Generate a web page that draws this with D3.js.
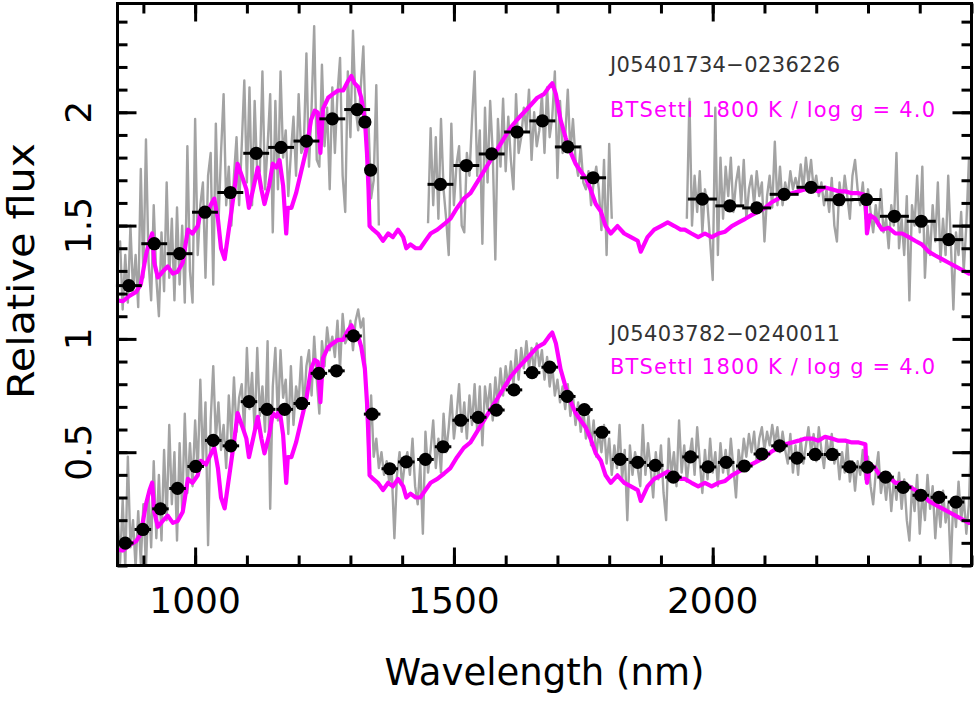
<!DOCTYPE html>
<html>
<head>
<meta charset="utf-8">
<script src="https://cdn.jsdelivr.net/npm/d3@7"></script>
<style>
  body { margin: 0; background: #fff; }
  svg { display: block; font-family: "DejaVu Sans", sans-serif; }
</style>
</head>
<body>
<svg id="chart" width="975" height="705"></svg>
<script>
// ---- data ----
const xDomain = [850, 2500];
const yDomain = [0, 2.48];
const xTickLabels = [1000, 1500, 2000];
const yTickLabels = [0.5, 1, 1.5, 2];

const objectNames = ['J05401734\u22120236226', 'J05403782\u22120240011'];
const modelLabel = 'BTSettl 1800 K / log g = 4.0';

// observed spectra on a 5 nm grid
const specStep = 5;
// J05401734: three pieces (telluric gaps removed)
const topSpecStarts = [850, 1450, 1950];
const topSpecFlux = [
  [1.37,1.43,1.13,1.37,1.16,1.50,1.21,1.37,1.14,1.75,
   1.27,1.88,1.34,1.17,1.59,1.27,1.10,1.47,1.21,1.69,
   1.27,1.53,1.17,1.58,1.24,1.50,1.16,1.85,1.30,1.16,
   1.97,1.37,1.59,1.69,1.27,1.72,1.82,1.24,1.95,1.50,
   1.82,2.08,1.59,1.76,1.50,1.72,1.89,1.59,1.85,2.14,
   1.69,2.11,1.59,2.05,1.72,1.74,2.18,1.66,1.85,2.08,
   1.47,2.05,1.66,2.18,1.80,1.92,1.63,1.82,1.98,1.72,
   2.08,1.82,1.85,2.26,1.76,2.02,2.38,1.79,1.76,2.21,
   1.85,2.02,1.66,2.11,1.82,2.08,2.24,1.72,1.56,2.18,
   1.89,2.36,2.02,1.92,2.11,2.29,1.89,1.95,1.62,1.70,
   2.12,1.50],
  [1.51,1.93,1.59,1.89,1.53,1.97,1.66,1.53,1.37,1.95,
   1.59,1.77,1.85,1.50,1.47,1.82,1.72,1.97,2.18,1.72,
   1.92,1.42,2.02,1.69,2.05,1.82,1.35,1.97,1.76,2.06,
   1.74,1.98,1.79,1.66,2.08,1.82,1.89,2.02,1.92,2.10,
   1.79,2.00,1.85,1.92,2.08,1.82,2.11,1.89,1.98,2.18,
   1.71,2.05,1.82,1.89,2.10,1.82,1.97,1.79,1.72,1.85,
   1.69,1.66,1.74,1.59,1.69,1.76,1.66,1.48,1.79,1.37,
   1.86,1.53],
  [1.53,2.06,1.50,1.72,1.56,1.74,1.47,1.66,1.59,1.43,
   1.26,2.02,1.37,1.80,1.53,1.76,1.63,1.80,1.56,1.69,
   1.76,1.59,1.79,1.53,1.66,1.72,1.59,1.74,1.63,1.69,
   1.43,1.63,1.72,1.58,1.87,1.59,1.76,1.59,1.69,1.63,
   1.74,1.66,1.71,1.66,1.77,1.66,1.80,1.69,1.79,1.66,
   1.72,1.63,1.69,1.59,1.66,1.56,1.71,1.50,1.43,1.69,
   1.59,1.72,1.63,1.53,1.72,1.79,1.66,1.59,1.69,1.53,
   1.66,1.56,1.47,1.59,1.50,1.66,1.47,1.53,1.40,1.59,
   1.50,1.82,1.40,1.53,1.37,1.63,1.17,1.59,1.50,1.72,
   1.47,1.76,1.27,1.50,1.37,1.59,1.43,1.69,1.34,1.53,
   1.37,1.72,1.43,1.13,1.47,1.37,1.56,1.30,1.50,1.79,
   1.21]
];
// J05403782: continuous 850-2500
const bottomSpecStart = 850;
const bottomSpecFlux = [
  0.24,0.01,0.29,-0.01,0.48,0.08,0.20,-0.01,0.24,0.01,
  0.27,-0.01,0.32,0.08,0.46,0.12,0.40,0.11,0.51,0.20,
  0.62,0.27,0.50,0.11,0.54,0.24,0.67,0.32,0.54,0.35,
  0.64,0.41,0.82,0.46,0.72,0.09,0.64,0.88,0.56,0.72,
  0.51,0.62,0.43,0.75,0.56,0.83,0.59,0.74,0.80,0.59,
  0.96,0.69,0.85,0.59,0.96,0.66,0.79,0.59,0.99,0.25,
  0.79,0.96,0.64,0.95,0.74,0.82,0.58,0.88,0.62,0.79,
  0.72,0.92,0.69,0.88,0.95,0.75,1.01,0.82,0.67,0.99,
  0.88,1.05,0.95,1.01,0.92,1.08,0.87,1.11,0.98,1.01,
  1.08,0.95,1.08,1.13,1.05,1.09,0.80,0.48,0.75,0.48,
  0.56,0.43,0.50,0.40,0.46,0.37,0.41,0.12,0.40,0.50,
  0.35,0.45,
  0.50,0.40,0.56,0.35,0.27,0.45,0.14,0.59,0.41,0.51,
  0.64,0.43,0.56,0.41,0.67,0.50,0.61,0.75,0.56,0.66,
  0.80,0.59,0.72,0.56,0.75,0.62,0.80,0.59,0.79,0.53,
  0.79,0.69,0.80,0.64,0.83,0.71,0.87,0.75,0.88,0.79,
  0.90,0.80,0.95,0.82,0.96,0.87,0.99,0.87,0.96,0.85,
  0.98,0.88,0.95,0.82,0.92,0.79,0.88,0.75,0.82,0.72,
  0.79,0.69,0.80,0.66,0.75,0.62,0.72,0.59,0.69,0.56,
  0.66,0.53,0.64,0.48,0.59,0.50,0.62,0.45,0.56,0.40,
  0.53,0.43,0.62,0.38,0.51,0.20,0.53,0.40,0.50,0.43,
  0.35,0.62,0.40,0.54,0.43,0.30,0.50,0.38,0.53,0.32,
  0.20,0.56,0.40,0.50,0.35,0.64,0.41,0.53,0.37,0.48,
  0.56,
  0.40,0.61,0.46,0.32,0.51,0.38,0.56,0.41,0.50,0.35,
  0.54,0.41,0.51,0.40,0.56,0.43,0.30,0.51,0.43,0.56,
  0.48,0.58,0.50,0.59,0.46,0.56,0.61,0.51,0.59,0.53,
  0.62,0.54,0.61,0.50,0.59,0.51,0.45,0.58,0.41,0.53,
  0.40,0.56,0.45,0.53,0.61,0.50,0.58,0.46,0.61,0.51,
  0.43,0.56,0.48,0.58,0.45,0.51,0.38,0.50,0.41,0.54,
  0.37,0.46,0.33,0.46,0.40,0.51,0.38,0.48,0.35,0.27,
  0.41,0.50,0.32,0.40,0.29,0.41,0.24,0.38,0.29,0.41,
  0.25,0.38,0.20,0.11,0.35,0.24,0.40,0.14,0.32,0.20,
  0.40,0.25,0.35,0.12,0.29,0.17,0.33,0.19,0.27,-0.01,
  0.30,0.17,0.37,0.20,0.30,0.14,0.27,0.62
];

// BT-Settl model (same model for both objects, the lower one shifted down)
const modelWave = [850,860,873,886,895,905,912,917,921,928,
  937,947,957,966,976,986,995,1005,1011,1021,
  1031,1037,1044,1050,1057,1063,1070,1076,1082,1087,
  1092,1099,1104,1112,1121,1128,1134,1143,1150,1157,
  1163,1170,1176,1179,1186,1195,1205,1215,1224,1231,
  1237,1242,1247,1257,1266,1276,1286,1295,1302,1308,
  1315,1321,1328,1332,1335,1337,1344,1353,1363,1373,
  1382,1392,1402,1408,1416,1426,1435,1445,1455,1468,
  1481,1493,1506,1519,1532,1545,1558,1571,1584,1597,
  1610,1622,1635,1648,1661,1674,1684,1690,1697,1706,
  1716,1726,1735,1745,1755,1764,1774,1784,1793,1803,
  1816,1829,1842,1855,1861,1874,1887,1900,1913,1926,
  1938,1946,1959,1972,1985,1998,2011,2024,2037,2050,
  2063,2075,2088,2101,2114,2127,2140,2153,2166,2179,
  2192,2204,2217,2230,2243,2256,2269,2282,2295,2298,
  2304,2314,2327,2340,2353,2366,2379,2391,2404,2417,
  2430,2443,2456,2469,2482,2495,2500];
const modelFlux = [1.17,1.166,1.19,1.207,1.24,1.37,1.433,1.465,1.336,1.271,
  1.296,1.32,1.288,1.296,1.336,1.482,1.465,1.498,1.562,1.546,
  1.595,1.619,1.53,1.4,1.352,1.449,1.562,1.66,1.773,1.74,
  1.708,1.66,1.578,1.66,1.756,1.66,1.595,1.676,1.773,1.756,
  1.789,1.676,1.465,1.578,1.578,1.643,1.74,1.837,1.967,2.007,
  1.999,1.821,2.015,2.064,2.08,2.096,2.096,2.136,2.16,2.128,
  2.112,2.064,1.967,1.821,1.66,1.498,1.482,1.465,1.433,1.465,
  1.449,1.482,1.449,1.4,1.417,1.4,1.4,1.433,1.465,1.482,
  1.506,1.53,1.578,1.619,1.643,1.692,1.74,1.789,1.837,1.886,
  1.934,1.967,1.999,2.031,2.064,2.08,2.112,2.128,2.08,1.967,
  1.886,1.821,1.773,1.74,1.708,1.66,1.595,1.562,1.498,1.465,
  1.498,1.465,1.449,1.433,1.385,1.449,1.482,1.498,1.514,1.498,
  1.482,1.482,1.465,1.449,1.465,1.449,1.465,1.473,1.498,1.514,
  1.53,1.546,1.562,1.578,1.603,1.619,1.635,1.643,1.651,1.66,
  1.66,1.651,1.668,1.66,1.651,1.651,1.643,1.643,1.635,1.465,
  1.546,1.53,1.482,1.49,1.465,1.465,1.449,1.433,1.417,1.385,
  1.368,1.352,1.336,1.32,1.304,1.288,1.29];
const modelOffsets = [0, -1.1];

// binned fluxes with wavelength half-widths
const topPhotWave = [872,921,970,1019,1068,1118,1166,1215,1265,1313,1328,1339,
  1474,1524,1573,1622,1671,1720,1769,
  1980,2033,2085,2138,2190,2244,2297,2351,2403,2456];
const topPhotFlux = [1.235,1.42,1.376,1.559,1.646,1.819,1.845,1.873,1.971,2.012,1.957,1.745,
  1.682,1.765,1.816,1.913,1.962,1.847,1.711,
  1.617,1.587,1.578,1.638,1.669,1.614,1.615,1.541,1.519,1.438];
const topPhotErr = [25,25,25,25,25,25,25,25,25,25,0,0,
  25,25,25,25,25,25,25,
  28,28,28,28,28,28,28,28,28,28];
const botPhotWave = [865,899,933,966,1001,1035,1069,1104,1139,1173,
  1206,1239,1273,1306,1342,1376,1408,1445,1479,1513,
  1547,1582,1616,1651,1685,1719,1752,1786,1821,1855,
  1889,1924,1957,1991,2026,2061,2095,2129,2163,2198,
  2231,2265,2299,2334,2368,2402,2437,2470];
const botPhotFlux = [0.099,0.159,0.25,0.34,0.437,0.552,0.528,0.723,0.689,0.689,
  0.715,0.848,0.859,1.013,0.668,0.427,0.457,0.468,0.524,0.641,
  0.654,0.686,0.775,0.851,0.875,0.746,0.688,0.588,0.468,0.455,
  0.442,0.39,0.479,0.435,0.455,0.439,0.492,0.528,0.474,0.49,
  0.49,0.435,0.434,0.39,0.345,0.31,0.301,0.28];
const botPhotErr = 16;

// ---- layout ----
const plot = { left: 117.5, right: 971.5, top: 3.5, bottom: 565.5 };
const svg = d3.select('#chart');

const x = d3.scaleLinear().domain(xDomain).range([plot.left, plot.right]);
const y = d3.scaleLinear().domain(yDomain).range([plot.bottom, plot.top]);

svg.append('defs').append('clipPath').attr('id', 'clip')
  .append('rect')
  .attr('x', plot.left).attr('y', plot.top)
  .attr('width', plot.right - plot.left).attr('height', plot.bottom - plot.top);

const line = d3.line().x(d => x(d[0])).y(d => y(d[1]));
const data = svg.append('g').attr('clip-path', 'url(#clip)');

// 1. observed spectra (grey)
const topSpec = topSpecFlux.map((seg, s) => seg.map((f, i) => [topSpecStarts[s] + i * specStep, f]));
const botSpec = [bottomSpecFlux.map((f, i) => [bottomSpecStart + i * specStep, f])];
data.selectAll('.spec')
  .data(topSpec.concat(botSpec))
  .enter().append('path')
  .attr('class', 'spec')
  .attr('d', line)
  .attr('fill', 'none')
  .attr('stroke', '#a3a3a3')
  .attr('stroke-width', 2.4)
  .attr('stroke-linejoin', 'round');

// 2. model (magenta)
data.selectAll('.model')
  .data(modelOffsets)
  .enter().append('path')
  .attr('class', 'model')
  .attr('d', off => line(modelWave.map((w, i) => [w, modelFlux[i] + off])))
  .attr('fill', 'none')
  .attr('stroke', '#ff00ff')
  .attr('stroke-width', 4.2)
  .attr('stroke-linejoin', 'round');

// 3. binned points with horizontal bars
const phot = topPhotWave.map((w, i) => ({ w, f: topPhotFlux[i], e: topPhotErr[i] }))
  .concat(botPhotWave.map((w, i) => ({ w, f: botPhotFlux[i], e: botPhotErr })));
const pts = svg.append('g');
pts.selectAll('line')
  .data(phot.filter(d => d.e > 0))
  .enter().append('line')
  .attr('x1', d => x(d.w - d.e))
  .attr('x2', d => x(d.w + d.e))
  .attr('y1', d => y(d.f))
  .attr('y2', d => y(d.f))
  .attr('stroke', '#000')
  .attr('stroke-width', 3);
pts.selectAll('circle')
  .data(phot)
  .enter().append('circle')
  .attr('cx', d => x(d.w))
  .attr('cy', d => y(d.f))
  .attr('r', 6.6)
  .attr('fill', '#000');

// 4. frame and ticks on all four sides, pointing inward
const xMinor = x.ticks(17), yMinor = y.ticks(25);
const axes = [
  { gen: d3.axisBottom, scale: x, at: `translate(0,${plot.bottom})`, minor: xMinor, major: xTickLabels, len: 18 },
  { gen: d3.axisTop, scale: x, at: `translate(0,${plot.top})`, minor: xMinor, major: xTickLabels, len: 18 },
  { gen: d3.axisLeft, scale: y, at: `translate(${plot.left},0)`, minor: yMinor, major: yTickLabels, len: 19 },
  { gen: d3.axisRight, scale: y, at: `translate(${plot.right},0)`, minor: yMinor, major: yTickLabels, len: 19 }
];
axes.forEach(a => {
  svg.append('g').attr('transform', a.at)
    .call(a.gen(a.scale).tickValues(a.minor).tickSize(-10).tickFormat(''))
    .call(g => g.select('.domain').remove())
    .call(g => g.selectAll('line').attr('stroke-width', 3));
  svg.append('g').attr('transform', a.at)
    .call(a.gen(a.scale).tickValues(a.major).tickSize(-a.len).tickFormat(''))
    .call(g => g.select('.domain').remove())
    .call(g => g.selectAll('line').attr('stroke-width', 3));
});
svg.append('rect')
  .attr('x', plot.left).attr('y', plot.top)
  .attr('width', plot.right - plot.left).attr('height', plot.bottom - plot.top)
  .attr('fill', 'none').attr('stroke', '#000').attr('stroke-width', 3);

// tick labels
svg.append('g').selectAll('text')
  .data(xTickLabels)
  .enter().append('text')
  .attr('x', d => x(d))
  .attr('y', plot.bottom + 47.5)
  .attr('text-anchor', 'middle')
  .style('font-size', '36px')
  .text(d => d);
svg.append('g').selectAll('text')
  .data(yTickLabels)
  .enter().append('text')
  .attr('transform', d => `translate(${plot.left - 27},${y(d)}) rotate(-90)`)
  .attr('text-anchor', 'middle')
  .style('font-size', '36px')
  .text(d => d);

// axis titles
svg.append('text')
  .attr('x', (plot.left + plot.right) / 2)
  .attr('y', 685)
  .attr('text-anchor', 'middle')
  .attr('textLength', 320)
  .attr('lengthAdjust', 'spacingAndGlyphs')
  .style('font-size', '37px')
  .text('Wavelength (nm)');
svg.append('text')
  .attr('transform', 'translate(34,271) rotate(-90)')
  .attr('text-anchor', 'middle')
  .attr('textLength', 256)
  .attr('lengthAdjust', 'spacingAndGlyphs')
  .style('font-size', '38px')
  .text('Relative flux');

// 5. annotations
const labelX = 610, nameBase = [72, 341], modelBase = [117, 374];
objectNames.forEach((name, i) => {
  svg.append('text')
    .attr('x', labelX).attr('y', nameBase[i])
    .attr('textLength', 230).attr('lengthAdjust', 'spacing')
    .attr('fill', '#333')
    .style('font-size', '21px')
    .text(name);
  svg.append('text')
    .attr('x', labelX).attr('y', modelBase[i])
    .attr('textLength', 325).attr('lengthAdjust', 'spacing')
    .attr('fill', '#ff00ff')
    .style('font-size', '21px')
    .text(modelLabel);
});
</script>
</body>
</html>
